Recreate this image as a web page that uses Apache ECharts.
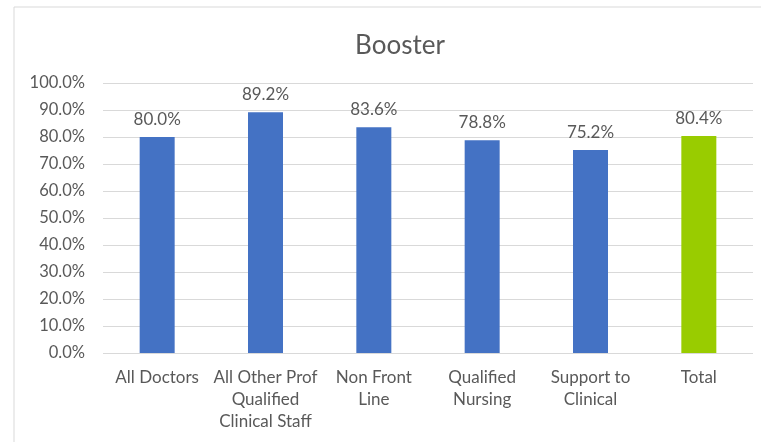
<!DOCTYPE html>
<html>
<head>
<meta charset="utf-8">
<script src="https://cdn.jsdelivr.net/npm/echarts@6/dist/echarts.min.js"></script>
<style>
  html, body { margin: 0; padding: 0; background: #fff; }
  #chart { width: 761px; height: 442px; }
</style>
</head>
<body>
<div id="chart"></div>
<script>
// data
var categories = ["All Doctors", "All Other Prof\nQualified\nClinical Staff", "Non Front\nLine", "Qualified\nNursing", "Support to\nClinical", "Total"];
var values = [80.0, 89.2, 83.6, 78.8, 75.2, 80.4];
var barColors = ["#4472C4", "#4472C4", "#4472C4", "#4472C4", "#4472C4", "#99CC00"];

var myChart = echarts.init(document.getElementById('chart'));
var font = "Lato, 'Open Sans', sans-serif";

var option = {
  animation: false,
  textStyle: { fontFamily: font },
  graphic: [{
    type: 'rect',
    shape: { x: 14, y: 7, width: 760, height: 460 },
    style: { fill: 'none', stroke: '#d9d9d9', lineWidth: 1 }
  }],
  title: {
    text: "Booster",
    left: 395,
    top: 28,
    textAlign: 'center',
    textStyle: { fontSize: 26, fontWeight: 'normal', color: '#595959', fontFamily: font }
  },
  grid: { left: 103, right: 8, top: 83, bottom: 89 },
  xAxis: {
    type: 'category',
    data: categories,
    axisLine: { show: false },
    axisTick: { show: false },
    axisLabel: { color: '#595959', fontSize: 17, lineHeight: 22, margin: 14, interval: 0, fontFamily: font }
  },
  yAxis: {
    type: 'value',
    min: 0,
    max: 100,
    interval: 10,
    axisLine: { show: false },
    axisTick: { show: false },
    splitLine: { lineStyle: { color: '#d9d9d9', width: 1 } },
    axisLabel: {
      color: '#595959', fontSize: 16.5, margin: 18, fontFamily: font,
      formatter: function (v) { return v.toFixed(1) + '%'; }
    }
  },
  series: [{
    type: 'bar',
    barWidth: 35,
    data: values.map(function (v, i) {
      return { value: v, itemStyle: { color: barColors[i] } };
    }),
    label: {
      show: true,
      position: 'top',
      distance: 9,
      color: '#595959',
      fontSize: 17,
      fontFamily: font,
      formatter: function (p) { return p.value.toFixed(1) + '%'; }
    }
  }]
};
myChart.setOption(option);
</script>
</body>
</html>
